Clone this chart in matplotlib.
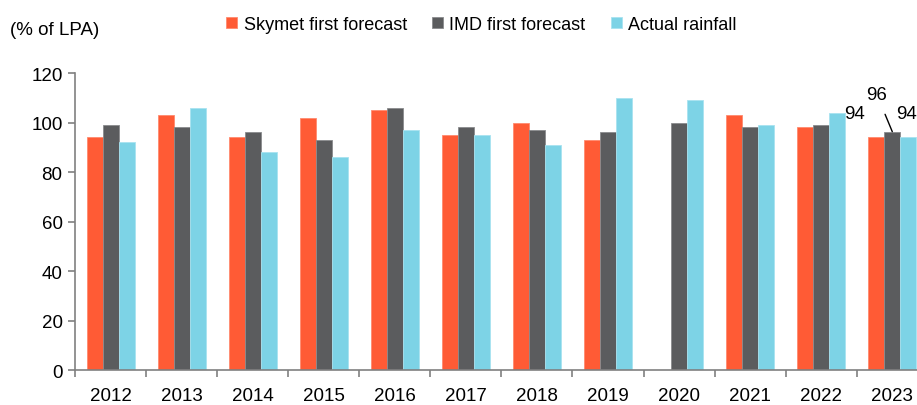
import matplotlib.pyplot as plt
import numpy as np

plt.rcParams['font.family'] = ['Liberation Sans', 'DejaVu Sans']

years = ['2012', '2013', '2014', '2015', '2016', '2017',
         '2018', '2019', '2020', '2021', '2022', '2023']
skymet = [94, 103, 94, 102, 105, 95, 100, 93, np.nan, 103, 98, 94]
imd = [99, 98, 96, 93, 106, 98, 97, 96, 100, 98, 99, 96]
actual = [92, 106, 88, 86, 97, 95, 91, 110, 109, 99, 104, 94]

series_names = ['Skymet first forecast', 'IMD first forecast', 'Actual rainfall']
colors = ['#FF5B35', '#5B5C5E', '#7DD3E6']
edges = ['#FF8A6E', '#8A8B8D', '#A8E3F0']

fig = plt.figure(figsize=(9.17, 4.06), dpi=100)
ax = fig.add_axes([0.0818, 0.0862, 0.930, 0.7315])

x = np.arange(len(years))
w = 0.225
for i, (vals, c, e, name) in enumerate(zip([skymet, imd, actual], colors, edges, series_names)):
    ax.bar(x + (i - 1) * w, vals, w, color=c, edgecolor=e, linewidth=0.6, label=name)

ax.set_xlim(-0.5, len(years) - 0.5)
ax.set_ylim(0, 120)
ax.set_yticks(np.arange(0, 121, 20))
ax.set_xticks(x)
ax.set_xticklabels(years)
ax.set_xticks(np.arange(-0.5, len(years), 1), minor=True)
ax.tick_params(axis='x', which='major', length=0, pad=12, labelsize=13.5)
ax.tick_params(axis='x', which='minor', length=5, direction='out', color='#808080', width=1.2)
ax.tick_params(axis='y', length=5, direction='out', color='#808080', width=1.2,
               labelsize=13.5, pad=4)
for s in ['top', 'right']:
    ax.spines[s].set_visible(False)
for s in ['left', 'bottom']:
    ax.spines[s].set_color('#808080')
    ax.spines[s].set_linewidth(1.2)

# data labels for 2023
lab_vals = [skymet[11], imd[11], actual[11]]
ax.text(10.47, 103.6, f'{lab_vals[0]:.0f}', ha='center', va='center', fontsize=13.5)
ax.annotate(f'{lab_vals[1]:.0f}', xy=(11.0, 96.3), xytext=(10.78, 111.5),
            ha='center', va='center', fontsize=13.5,
            arrowprops=dict(arrowstyle='-', color='black', lw=1,
                            shrinkA=7, shrinkB=0))
ax.text(11.2, 103.6, f'{lab_vals[2]:.0f}', ha='center', va='center', fontsize=13.5)

fig.text(0.011, 0.926, '(% of LPA)', fontsize=13.5, va='center', ha='left')
fig.legend(loc='center', bbox_to_anchor=(0.525, 0.938), ncol=3, frameon=False,
           fontsize=13, handlelength=0.6, handleheight=0.6, handletextpad=0.35,
           columnspacing=1.4)

fig.savefig('out.png', dpi=100)
